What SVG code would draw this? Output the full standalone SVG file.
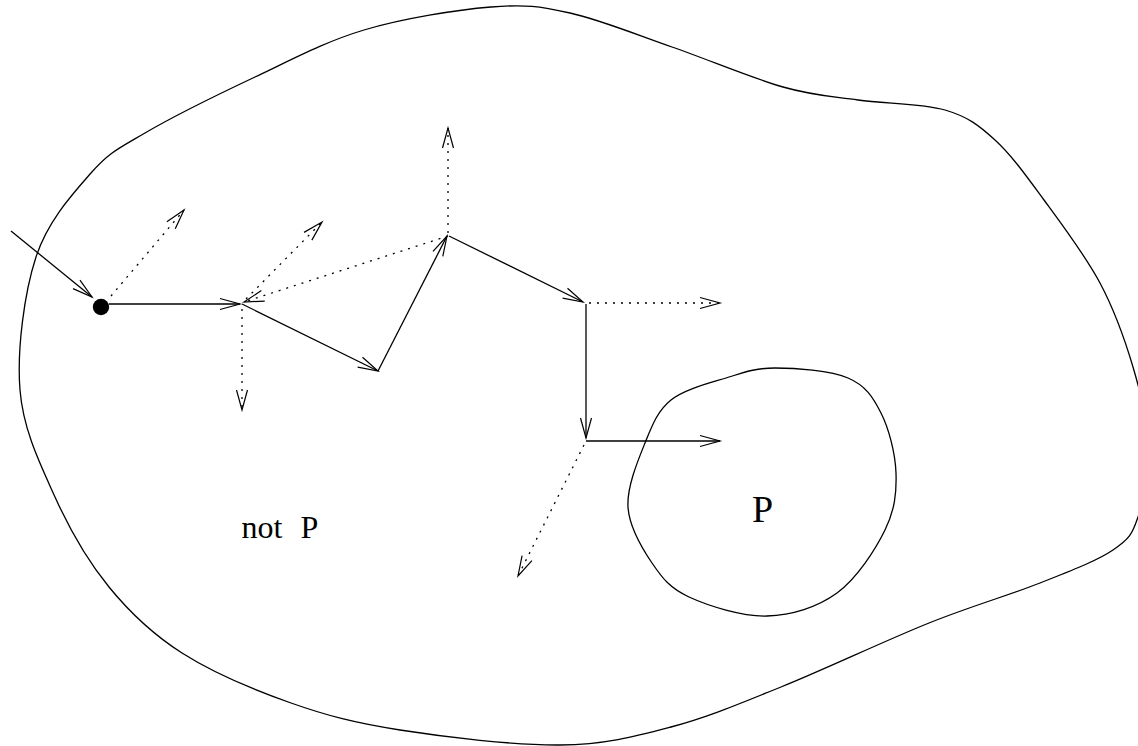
<svg xmlns="http://www.w3.org/2000/svg" width="1138" height="746" viewBox="0 0 1138 746">
<style>
.region{fill:none;stroke:#000;stroke-width:1.3}
.solid{fill:none;stroke:#000;stroke-width:1.3;marker-end:url(#ah)}
.dot{fill:none;stroke:#000;stroke-width:1.3;stroke-dasharray:2 6;marker-end:url(#ah)}
.lbl{fill:#000}
</style>
<defs>
<marker id="ah" markerUnits="userSpaceOnUse" viewBox="-22 -7 24 14" refX="0" refY="0" markerWidth="24" markerHeight="14" orient="auto" overflow="visible">
<path d="M-20,-5.5 L0,0 L-20,5.5" fill="none" stroke="#000" stroke-width="1.2"/>
</marker>
</defs>
<rect width="1138" height="746" fill="#fff"/>
<g id="region-notP">
<path class="region" d="M491,7 C525.3,4.2 539.8,6.3 570,13 C600.2,19.7 636.5,34.7 672,47 C707.5,59.3 752,78.2 783,87 C814,95.8 831,96.2 858,100 C885,103.8 922.2,103.3 945,110 C967.8,116.7 978.5,125 995,140 C1011.5,155 1026.5,176.2 1044,200 C1061.5,223.8 1085.2,255.2 1100,283 C1114.8,310.8 1125,340 1133,367 C1141,394 1147.2,420 1148,445 C1148.8,470 1143.8,499.5 1138,517 C1132.2,534.5 1129.3,539 1113,550 C1096.7,561 1070.7,570.8 1040,583 C1009.3,595.2 972.2,605.7 929,623 C885.8,640.3 824,669.7 781,687 C738,704.3 707.8,717.3 671,727 C634.2,736.7 605.2,744.5 560,745 C514.8,745.5 444.8,737 400,730 C355.2,723 327.3,715.8 291,703 C254.7,690.2 212.3,672.3 182,653 C151.7,633.7 130.2,613 109,587 C87.8,561 69.8,529.8 55,497 C40.2,464.2 23.2,430 20,390 C16.8,350 24.2,293.2 36,257 C47.8,220.8 72.8,193.7 91,173 C109.2,152.3 117.7,149 145,133 C172.3,117 218.5,94.2 255,77 C291.5,59.8 324.7,41.7 364,30 C403.3,18.3 456.7,9.8 491,7 Z"/>
<text class="lbl" x="241.5" y="538" font-size="32" font-family="'Liberation Serif', 'Times New Roman', Times, 'DejaVu Serif', serif">not <tspan dx="10">P</tspan></text>
</g>
<g id="region-P">
<path class="region" d="M775,368 C795.3,368 830.3,370.5 848,378 C865.7,385.5 873,397.2 881,413 C889,428.8 895.3,453.5 896,473 C896.7,492.5 894.8,510 885,530 C875.2,550 856.7,578.7 837,593 C817.3,607.3 791.7,615.3 767,616 C742.3,616.7 708.2,605.8 689,597 C669.8,588.2 662.2,578 652,563 C641.8,548 629.2,527 628,507 C626.8,487 637.8,460.8 645,443 C652.2,425.2 657.5,410.8 671,400 C684.5,389.2 708.7,383.3 726,378 C743.3,372.7 754.7,368 775,368 Z"/>
<text class="lbl" x="752" y="522" font-size="38" font-family="'Liberation Serif', 'Times New Roman', Times, 'DejaVu Serif', serif">P</text>
</g>
<g id="start">
<circle cx="101" cy="307" r="8.2" fill="#000"/>
</g>
<g id="connectors">
<line class="solid" x1="11" y1="231" x2="92" y2="297"/>
<line class="dot" x1="111" y1="296" x2="184" y2="210"/>
<line class="solid" x1="109" y1="304" x2="240" y2="304"/>
<line class="dot" x1="246" y1="299" x2="322" y2="222"/>
<line class="dot" x1="242" y1="309" x2="242" y2="410"/>
<line class="solid" x1="242" y1="304" x2="378" y2="371"/>
<line class="solid" x1="378" y1="371" x2="447" y2="236"/>
<line class="dot" x1="448" y1="236" x2="244" y2="302"/>
<line class="dot" x1="448" y1="233" x2="448" y2="128"/>
<line class="solid" x1="449" y1="236" x2="583" y2="302"/>
<line class="dot" x1="589" y1="303" x2="720" y2="303"/>
<line class="solid" x1="586" y1="304" x2="586" y2="438"/>
<line class="solid" x1="586" y1="441" x2="720" y2="441"/>
<line class="dot" x1="584" y1="445" x2="518" y2="576"/>
</g>
</svg>
